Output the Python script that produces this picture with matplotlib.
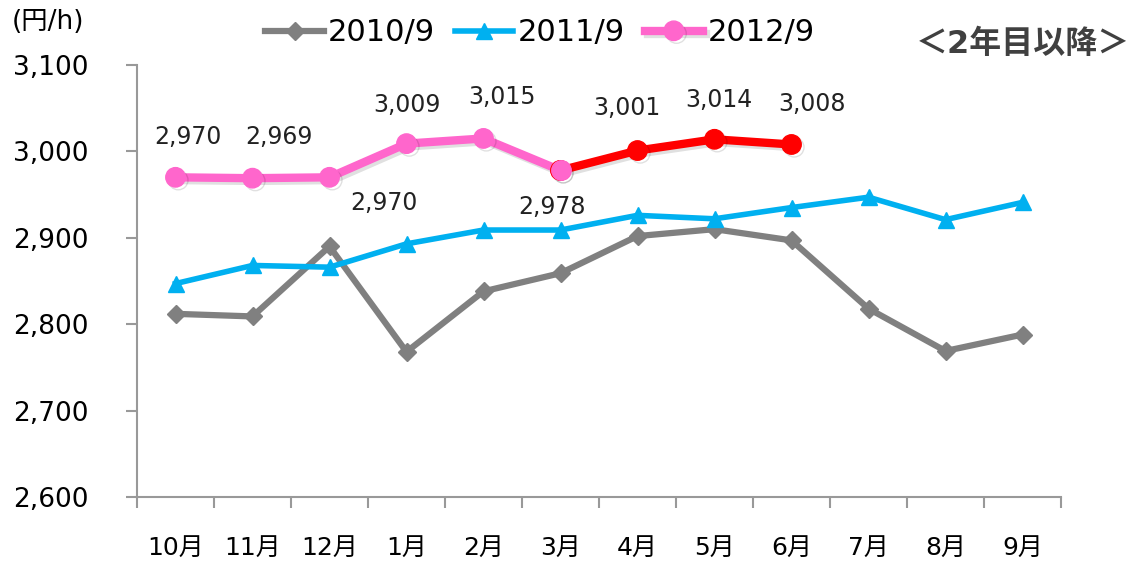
import numpy as np
import matplotlib
matplotlib.use("Agg")
import matplotlib.pyplot as plt
import matplotlib.patheffects as pe

# DejaVu for the wide digits, Noto CJK for 月 / 円 etc.
plt.rcParams['font.family'] = ['DejaVu Sans', 'Noto Sans CJK JP']

months = ["10月", "11月", "12月", "1月", "2月", "3月", "4月", "5月", "6月", "7月", "8月", "9月"]
s2010 = [2812, 2809, 2890, 2768, 2838, 2859, 2902, 2910, 2897, 2818, 2769, 2788]
s2011 = [2847, 2868, 2866, 2893, 2909, 2909, 2926, 2922, 2935, 2947, 2921, 2941]
s2012 = [2970, 2969, 2970, 3009, 3015, 2978]          # 10月-3月 (pink)
s2012_new = [2978, 3001, 3014, 3008]                   # 3月-6月 (red)

x = np.arange(len(months))

fig = plt.figure(figsize=(11.36, 5.61), dpi=100)
ax = fig.add_axes([137/1136, 1-497/561, 924/1136, 432/561])

shadow = [pe.SimpleLineShadow(offset=(2, -2), alpha=0.12), pe.Normal()]

ax.plot(x, s2010, color="#808080", lw=4.5, marker="D", ms=9, label="2010/9", zorder=3)
ax.plot(x, s2011, color="#00B0F0", lw=4, marker="^", ms=12, label="2011/9", zorder=4)
ax.plot(x[:6], s2012, color="#FF66CC", lw=6, marker="o", ms=14, label="2012/9", zorder=5,
        path_effects=shadow)
ax.plot(x[5:9], s2012_new, color="#FF0000", lw=6, marker="o", ms=14, zorder=5,
        path_effects=shadow)
ax.plot(x[5], s2012[5], color="#FF66CC", marker="o", ms=14, zorder=6)

# data labels for 2012/9
labels = s2012[:5] + s2012_new
lab_x = list(x[:5]) + list(x[5:9])
offs = [(12, 40), (26, 41), (54, -26), (0, 39), (19, 41), (-8, -37), (-11, 43), (4, 39), (21, 40)]
for xi, v, (dx, dy) in zip(lab_x, labels, offs):
    ax.annotate(f"{v:,}", (xi, v), xytext=(dx, dy), textcoords="offset pixels",
                ha="center", va="center", fontsize=17, color="#222222")

ax.set_xlim(-0.5, 11.5)
ax.set_ylim(2600, 3100)
ax.set_yticks(np.arange(2600, 3101, 100))
ax.set_yticklabels([f"{v:,}" for v in range(2600, 3101, 100)])
ax.set_xticks(np.arange(-0.5, 12, 1))
ax.set_xticklabels([])
ax.set_xticks(x, minor=True)
ax.set_xticklabels(months, minor=True)
ax.tick_params(axis="x", which="minor", length=0, pad=28, labelsize=18)
ax.tick_params(axis="x", which="major", length=8, width=1.5, color="#999999")
ax.tick_params(axis="y", length=8, width=1.5, color="#999999", labelsize=19, pad=27)
for s in ["top", "right"]:
    ax.spines[s].set_visible(False)
for s in ["left", "bottom"]:
    ax.spines[s].set_color("#999999")
    ax.spines[s].set_linewidth(1.5)

fig.legend(loc="center", bbox_to_anchor=(540/1136, 1-33/561), ncol=3, frameon=False,
           fontsize=22, handlelength=1.9, handletextpad=0.15, columnspacing=0.65)

fig.text(12/1136, 1-22/561, "(円/h)", fontsize=19, va="center", ha="left")
fig.text(1130/1136, 1-45/561, "＜2年目以降＞", fontsize=23, fontweight="bold",
         color="#404040", va="center", ha="right")

fig.savefig("out.png", dpi=100)
